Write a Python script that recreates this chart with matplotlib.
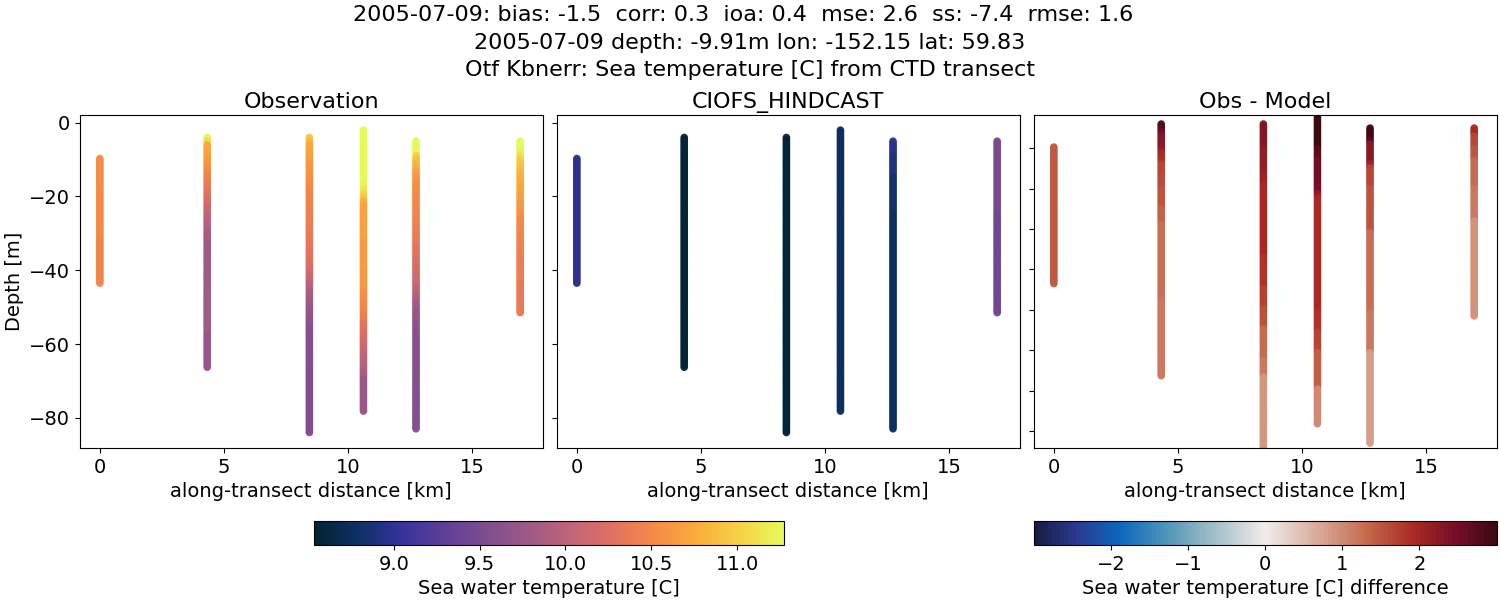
import numpy as np
import matplotlib
matplotlib.use("Agg")
import matplotlib.pyplot as plt
from matplotlib.colors import LinearSegmentedColormap, Normalize
from matplotlib.cm import ScalarMappable

# ---- data -----------------------------------------------------------------
distance_km = [0.0, 4.33, 8.45, 10.63, 12.75, 16.95]
top_depth = [-9.7, -4.0, -4.0, -2.0, -5.0, -5.0]
bottom_depth = [-43.5, -66.3, -84.0, -78.2, -83.0, -51.5]

obs_0 = [10.53] * 10 + [10.51] * 12 + [10.48] * 13
obs_1 = ([11.2, 11.1, 10.75, 10.72, 10.7, 10.66, 10.62, 10.6, 10.56, 10.52, 10.48, 10.44, 10.42, 10.38,
          10.34, 10.3, 10.26, 10.22, 10.18, 10.12, 10.08, 10.04, 10.0, 9.97, 9.95, 9.92, 9.88, 9.85, 9.83, 9.82]
         + [9.8] * 12 + [9.78] * 12 + [9.73] * 9)
obs_2 = ([10.95, 10.85, 10.75, 10.73, 10.7, 10.68, 10.65, 10.63, 10.6, 10.59, 10.58, 10.56, 10.54, 10.52,
          10.5, 10.49, 10.48, 10.46, 10.45, 10.44, 10.43, 10.42, 10.41, 10.4, 10.39, 10.38, 10.37, 10.36,
          10.35, 10.34, 10.33, 10.31, 10.3, 10.28, 10.25, 10.22, 10.18, 10.14, 10.1, 10.05, 10.0, 9.95, 9.9,
          9.86, 9.82, 9.78, 9.74, 9.72, 9.7, 9.68, 9.66, 9.64, 9.62, 9.6, 9.59]
         + [9.58] * 9 + [9.56] * 9 + [9.55] * 8)
obs_3 = ([11.28] * 14 + [11.25, 11.22, 11.15, 11.05, 10.95, 10.8, 10.72, 10.7]
         + [10.68] * 8 + [10.65] * 8 + [10.62] * 5
         + [10.58, 10.55, 10.53, 10.52, 10.5, 10.48, 10.45, 10.42, 10.38, 10.34, 10.3, 10.26, 10.22, 10.18,
            10.15, 10.12, 10.08, 10.05, 10.02, 10.0, 9.98, 9.95, 9.9, 9.85]
         + [9.75] * 9)
obs_4 = ([11.28, 11.27, 11.26, 11.25, 11.0, 10.9, 10.85, 10.8, 10.72, 10.65, 10.6, 10.57, 10.55, 10.53,
          10.52, 10.51, 10.5, 10.49, 10.48, 10.47, 10.46, 10.45, 10.44, 10.43, 10.42, 10.4, 10.38, 10.36,
          10.34, 10.32, 10.3, 10.28, 10.26, 10.24, 10.22, 10.2, 10.18, 10.15, 10.12, 10.1, 10.05, 10.0,
          9.95, 9.9, 9.86, 9.8, 9.76, 9.73, 9.7, 9.68, 9.66, 9.64, 9.62]
         + [9.6] * 13 + [9.58] * 13)
obs_5 = ([11.28, 11.27, 11.26, 11.2, 11.1, 11.0, 10.95, 10.9, 10.85, 10.8, 10.78, 10.75, 10.73, 10.72,
          10.7, 10.68, 10.66, 10.63, 10.6, 10.58, 10.56, 10.54, 10.52, 10.5, 10.49, 10.48, 10.47, 10.46,
          10.45, 10.44, 10.43]
         + [10.4] * 8 + [10.36] * 8)
obs_values = [obs_0, obs_1, obs_2, obs_3, obs_4, obs_5]

model_0 = [8.98] * 35
model_1 = [8.56] * 63
model_2 = [8.57] * 81
model_3 = [8.78] * 76
model_4 = [8.99] * 4 + [8.9] * 6 + [8.82] * 10 + [8.79] * 59
model_5 = [9.47] * 20 + [9.43] * 27
model_values = [model_0, model_1, model_2, model_3, model_4, model_5]

diff_0 = [1.47] * 35
diff_1 = ([2.85, 2.75, 2.45, 2.3, 2.28, 2.25, 2.2, 1.95, 1.9, 1.85] + [1.65] * 3 + [1.6] * 3
          + [1.5] * 5 + [1.4] * 4 + [1.25] * 19 + [1.15] * 19)
diff_2 = ([2.35] + [2.3] * 5 + [2.2] * 6 + [2.1] * 3 + [1.95] * 18 + [1.85] * 8 + [1.7] * 5
          + [1.55] * 5 + [1.3] * 8 + [1.15] * 4 + [0.88] * 18)
diff_3 = ([3.0] * 8 + [2.7] * 3 + [2.5] * 6 + [2.42] * 2 + [2.2] + [1.95] * 28 + [1.85] * 5
          + [1.68] * 5 + [1.42] * 9 + [1.0] * 9)
diff_4 = ([2.95] * 3 + [2.7] + [2.25] * 5 + [2.0] + [1.65] * 5 + [1.5] * 11 + [1.28] * 20
          + [1.15] * 10 + [0.8] * 23)
diff_5 = [1.95] * 2 + [1.65] * 3 + [1.5] * 3 + [1.3] * 7 + [1.15] * 8 + [0.92] * 24
diff_values = [diff_0, diff_1, diff_2, diff_3, diff_4, diff_5]

distance_ticks = [0, 5, 10, 15]
depth_ticks = [0, -20, -40, -60, -80]
diff_panel_depth_ticks = [-10, -20, -30, -40, -50, -60, -70, -80]
temp_ticks = [9.0, 9.5, 10.0, 10.5, 11.0]
diff_ticks = [-2, -1, 0, 1, 2]
panel_titles = ["Observation", "CIOFS_HINDCAST", "Obs - Model"]
title_lines = [
    "2005-07-09: bias: -1.5  corr: 0.3  ioa: 0.4  mse: 2.6  ss: -7.4  rmse: 1.6  ",
    "2005-07-09 depth: -9.91m lon: -152.15 lat: 59.83",
    "Otf Kbnerr: Sea temperature [C] from CTD transect",
]

# ---- colour maps -----------------------------------------------------------
thermal_rgb = [(3, 35, 51), (13, 48, 100), (53, 50, 155), (93, 62, 153), (126, 77, 143), (158, 89, 135),
               (193, 100, 121), (225, 113, 97), (246, 139, 69), (251, 173, 60), (246, 211, 70), (231, 250, 90)]
balance_stops = [0, 1/11, 2/11, 3/11, 4/11, 5/11, 0.5, 6/11, 7/11, 8/11, 9/11, 10/11, 1]
balance_rgb = [(23, 28, 66), (41, 58, 143), (11, 102, 189), (69, 144, 185), (142, 181, 194), (210, 216, 219),
               (241, 236, 235), (230, 210, 204), (213, 157, 137), (196, 101, 72), (172, 43, 36), (120, 14, 40),
               (60, 9, 17)]
thermal = LinearSegmentedColormap.from_list("thermal_like", [tuple(v / 255 for v in c) for c in thermal_rgb])
balance = LinearSegmentedColormap.from_list(
    "balance_like", [(s, tuple(v / 255 for v in c)) for s, c in zip(balance_stops, balance_rgb)])

temp_norm = Normalize(8.534, 11.274)
diff_norm = Normalize(-3.0, 3.0)

# ---- figure ---------------------------------------------------------------
W, H = 1500, 600
fig = plt.figure(figsize=(W / 100, H / 100), dpi=100)


def box(x0, y0, x1, y1):
    return [x0 / W, 1 - y1 / H, (x1 - x0) / W, (y1 - y0) / H]


ax_obs = fig.add_axes(box(80, 115, 542.5, 448))
ax_mod = fig.add_axes(box(557, 115, 1019.5, 448))
ax_dif = fig.add_axes(box(1034, 115, 1496.5, 448))
axes = [ax_obs, ax_mod, ax_dif]

scatter_style = dict(s=20, alpha=0.9)
samples_per_reading = 2
for i, x in enumerate(distance_km):
    n = len(obs_values[i]) * samples_per_reading
    depth = np.linspace(top_depth[i], bottom_depth[i], n)
    xs = np.full(n, x)
    ax_obs.scatter(xs, depth, c=np.repeat(obs_values[i], samples_per_reading), cmap=thermal, norm=temp_norm, **scatter_style)
    ax_mod.scatter(xs, depth, c=np.repeat(model_values[i], samples_per_reading), cmap=thermal, norm=temp_norm, **scatter_style)
    ax_dif.scatter(xs, depth, c=np.repeat(diff_values[i], samples_per_reading), cmap=balance, norm=diff_norm, **scatter_style)

for ax, title in zip(axes, panel_titles):
    ax.set_xlim(-0.8, 17.85)
    ax.set_xticks(distance_ticks)
    ax.tick_params(labelsize=14)
    ax.set_xlabel("along-transect distance [km]", fontsize=14)
    ax.set_title(title, fontsize=16, pad=5)

ax_obs.set_ylim(-88.2, 2.1)
ax_mod.set_ylim(-88.2, 2.1)
ax_obs.set_yticks(depth_ticks)
ax_mod.set_yticks(depth_ticks)
ax_mod.set_yticklabels([])
ax_obs.set_ylabel("Depth [m]", fontsize=14, labelpad=4)
ax_dif.set_ylim(-84.2, -1.76)
ax_dif.set_yticks(diff_panel_depth_ticks)
ax_dif.set_yticklabels([])

fig.suptitle("\n".join(title_lines), fontsize=16, y=0.991, va="top", linespacing=1.45)

cax1 = fig.add_axes(box(314, 521, 784, 545))
cb1 = fig.colorbar(ScalarMappable(norm=temp_norm, cmap=thermal), cax=cax1, orientation="horizontal")
cb1.set_ticks(temp_ticks)
cb1.ax.tick_params(labelsize=14)
cb1.set_label("Sea water temperature [C]", fontsize=14)

cax2 = fig.add_axes(box(1034, 521, 1496.5, 545))
cb2 = fig.colorbar(ScalarMappable(norm=diff_norm, cmap=balance), cax=cax2, orientation="horizontal")
cb2.set_ticks(diff_ticks)
cb2.ax.tick_params(labelsize=14)
cb2.set_label("Sea water temperature [C] difference", fontsize=14)

fig.savefig("out.png", dpi=100)
